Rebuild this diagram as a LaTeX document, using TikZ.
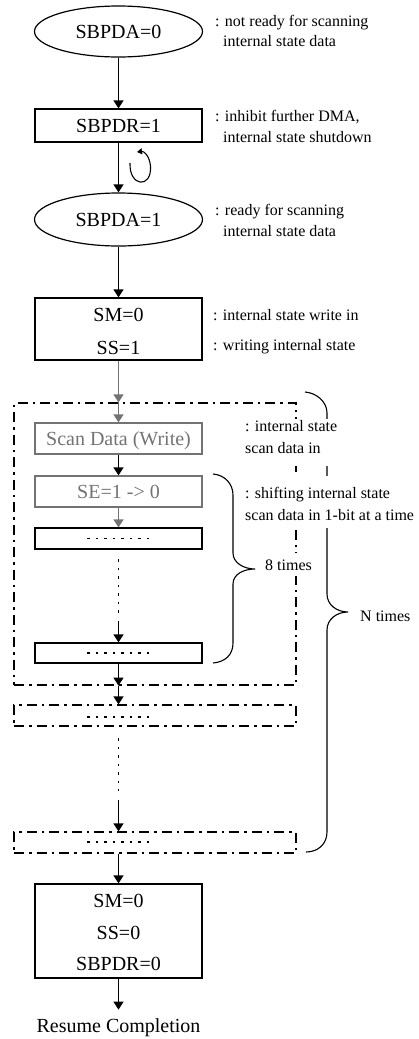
\documentclass[tikz,border=0pt]{standalone}
\usepackage{fontspec}
\setmainfont{Liberation Serif}
\usetikzlibrary{shapes.geometric,arrows.meta}
\begin{document}
\begin{tikzpicture}[x=1pt,y=-1pt,
  lw/.style={line width=1.2pt},
  main/.style={font=\fontsize{20}{24}\selectfont, inner sep=0pt},
  note/.style={font=\fontsize{16}{20}\selectfont, inner sep=0pt, anchor=base west},
  ell/.style={ellipse, draw, lw, minimum width=168pt, main, text height=14pt, text depth=0pt},
  box/.style={rectangle, draw, lw, minimum width=167pt, main, text height=14pt, text depth=0pt},
  loopbox/.style={rectangle, draw, lw, minimum width=282pt, inner sep=0pt, dash pattern=on 10pt off 5pt on 2.5pt off 5pt},
  arr/.style={lw, -{Triangle[length=8pt,width=10pt]}},
  dots/.style={lw, dash pattern=on 2.5pt off 6pt},
  faded/.style={draw=black!55, text=black!55},
  brace/.style={line width=1.1pt}
]
\useasboundingbox (0,0) rectangle (419,1039);

% main flow nodes
\node[ell, minimum height=51pt] (e1) at (118.5,31.5) {SBPDA=0};
\node[box, minimum height=33pt] (r1) at (118.5,125.5) {SBPDR=1};
\node[ell, minimum height=53pt] (e2) at (118.5,219.5) {SBPDA=1};
\node[box, minimum height=62pt] (r2) at (118.5,329) {};
\node[main, anchor=base] (r2a) at (118.5,321) {SM=0};
\node[main, anchor=base] (r2b) at (118.5,354) {SS=1};

% loop boxes
\node[loopbox, minimum height=282pt] (L1) at (155,544) {};
\node[loopbox, minimum height=21pt] (L2) at (155,715.5) {};
\node[loopbox, minimum height=21pt] (L3) at (155,842.5) {};

\node[box, faded, minimum height=31pt] (sd) at (118.5,438.5) {Scan Data (Write)};
\node[box, faded, minimum height=31pt] (se) at (118.5,491.5) {SE=1 -> 0};
\node[box, minimum height=21pt] (b3) at (118.5,538.5) {};
\node[box, minimum height=20pt] (b4) at (118.5,653) {};

\node[box, minimum height=94pt] (rf) at (118.5,931) {};
\node[main, anchor=base] (rfa) at (118.5,907.7) {SM=0};
\node[main, anchor=base] (rfb) at (118.5,939) {SS=0};
\node[main, anchor=base] (rfc) at (118.5,970) {SBPDR=0};
\node[main, anchor=base, inner ysep=9pt] (done) at (118.5,1032.7) {Resume Completion};

% dotted contents
\draw[dots] ([xshift=-31.5pt]b3.center) -- ([xshift=32pt]b3.center);
\draw[dots] ([xshift=-31.5pt]b4.center) -- ([xshift=32pt]b4.center);
\draw[dots] (87,717) -- (151,717);
\draw[dots] (87,842) -- (151,842);

% connectors
\draw[arr] (e1) -- (r1);
\draw[arr] (r1) -- (e2);
\draw[arr] (e2) -- (r2);
\coordinate (l1in) at (r2.south |- L1.north);
\draw[arr, black!55] (r2.south) -- (l1in);
\draw[arr, black!55] (l1in) -- (sd.north);
\draw[arr] (sd) -- (se);
\draw[arr, black!55] (se) -- (b3);
\coordinate (d1) at (118.5,559);
\coordinate (d2) at (118.5,613);
\coordinate (d2b) at (118.5,621);
\draw[dots] (d1) -- (d2);
\draw[arr] (d2b) -- (b4.north);
\coordinate (l1out) at (b4.south |- L1.south);
\draw[arr] (b4) -- (l1out);
\draw[arr] (l1out) -- (l1out |- L2.north);
\coordinate (d3) at (118.5,738);
\coordinate (d4) at (118.5,791);
\coordinate (d5) at (118.5,800);
\draw[dots] (d3) -- (d4);
\draw[arr] (d5) -- (d5 |- L3.north);
\coordinate (l3out) at (b4.south |- L3.south);
\draw[arr] (l3out) -- (rf.north);
\draw[arr] (rf) -- (done.north);

% self loop symbol
\draw[line width=1.1pt, -{Triangle[length=5pt,width=6pt]}]
  (130,163) .. controls (129,187) and (152,189) .. (150.5,166)
  .. controls (149.5,156) and (144,151) .. (137,152);

% braces
\draw[brace] (213,474) .. controls (225,475) and (233,484) .. (233,495) -- (233,553)
  .. controls (233,563) and (244,569) .. (255,569)
  .. controls (244,569) and (233,574) .. (233,584) -- (233,643)
  .. controls (233,655) and (225,662) .. (213,663);
\draw[brace] (305,392) .. controls (317,393) and (327,402) .. (327,413) -- (327,594)
  .. controls (327,605) and (337,612) .. (348,612)
  .. controls (337,612) and (327,619) .. (327,630) -- (327,832)
  .. controls (327,844) and (318,852) .. (306,852);

% white backing of the scan notes
\fill[white] (243,419) rectangle (345,466);
\fill[white] (243,476) rectangle (415,528);

% notes
\node[note] (n1a) at (215,26.5) {: not ready for scanning};
\node[note] (n1b) at (223,46.5) {internal state data};
\node[note] (n2a) at (215,121.7) {: inhibit further DMA,};
\node[note] (n2b) at (223,142.7) {internal state shutdown};
\node[note] (n3a) at (215,215) {: ready for scanning};
\node[note] (n3b) at (223,236) {internal state data};
\node[note] (n4a) at (213,320) {: internal state write in};
\node[note] (n4b) at (213,350) {: writing internal state};
\node[note] (n5a) at (245,431.7) {: internal state};
\node[note] (n5b) at (245,453.3) {scan data in};
\node[note] (n6a) at (245,498.3) {: shifting internal state};
\node[note] (n6b) at (245,520) {scan data in 1-bit at a time};
\node[note, fill=white, inner xsep=1pt, inner ysep=6pt] (eight) at (264,570) {8 times};
\node[note] (ntimes) at (360,621) {N times};
\end{tikzpicture}
\end{document}
